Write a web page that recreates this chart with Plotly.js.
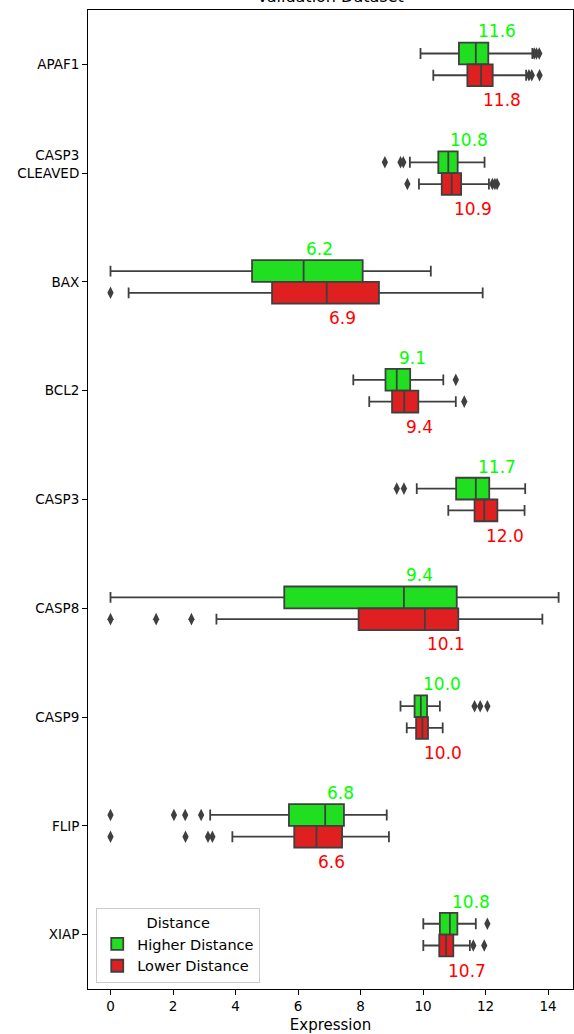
<!DOCTYPE html>
<html>
<head>
<meta charset="utf-8">
<script src="https://cdn.plot.ly/plotly-3.0.1.min.js"></script>
<style>html,body{margin:0;padding:0;background:#fff;}#chart{width:574px;height:1034px;}</style>
</head>
<body>
<div id="chart"></div>
<script>
// ---- data ----
const categories = ['APAF1','CASP3 CLEAVED','BAX','BCL2','CASP3','CASP8','CASP9','FLIP','XIAP'];
const tickLabels = ['APAF1','CASP3<br>CLEAVED<br>\u00a0','BAX','BCL2','CASP3','CASP8','CASP9','FLIP','XIAP'];

const higherLower = [9.92, 9.58, 0.00, 7.77, 9.80, 0.00, 9.28, 3.19, 10.01];
const higherQ1    = [11.15, 10.49, 4.53, 8.80, 11.06, 5.56, 9.73, 5.71, 10.54];
const higherMed   = [11.69, 10.81, 6.18, 9.16, 11.69, 9.39, 9.93, 6.87, 10.86];
const higherQ3    = [12.09, 11.11, 8.07, 9.59, 12.12, 11.08, 10.13, 7.47, 11.10];
const higherUpper = [13.50, 11.97, 10.25, 10.65, 13.27, 14.34, 10.54, 8.84, 11.69];
const higherOut   = [[13.56,13.63,13.72],[8.78,9.28,9.37],[],[11.05],[9.16,9.39],[],[11.65,11.83,12.06],[0,2.03,2.39,2.90],[12.06]];
const higherLabels = ['11.6','10.8','6.2','9.1','11.7','9.4','10.0','6.8','10.8'];

const lowerLower = [10.33, 9.87, 0.58, 8.28, 10.81, 3.39, 9.48, 3.90, 10.01];
const lowerQ1    = [11.42, 10.60, 5.17, 9.01, 11.65, 7.94, 9.78, 5.88, 10.52];
const lowerMed   = [11.86, 10.92, 6.92, 9.40, 11.96, 10.06, 9.98, 6.59, 10.74];
const lowerQ3    = [12.23, 11.22, 8.59, 9.85, 12.38, 11.13, 10.16, 7.41, 10.97];
const lowerUpper = [13.30, 12.11, 11.91, 11.05, 13.25, 13.82, 10.63, 8.91, 11.50];
const lowerOut   = [[13.39,13.48,13.73],[9.50,12.22,12.30,12.37],[0],[11.32],[],[0,1.46,2.59],[],[0,2.40,3.12,3.26],[11.61,11.96]];
const lowerLabels = ['11.8','10.9','6.9','9.4','12.0','10.1','10.0','6.6','10.7'];

const xTicks = [0,2,4,6,8,10,12,14];
const chartTitle = 'Validation Dataset';

// ---- styling ----
const GREEN = '#20DF20', RED = '#DF2020', EDGE = '#3f3f3f';
const FONT = 'DejaVu Sans, sans-serif';

function boxTrace(name, fill, lf, q1, med, q3, uf, outs) {
  return {
    type: 'box', orientation: 'h', name: name,
    y: categories, x: outs,
    lowerfence: lf, q1: q1, median: med, q3: q3, upperfence: uf,
    boxpoints: 'outliers', jitter: 0, pointpos: 0,
    fillcolor: fill,
    line: {color: EDGE, width: 1.8},
    whiskerwidth: 0.5,
    marker: {symbol: 'diamond-tall', size: 9, color: EDGE},
    hoverinfo: 'skip'
  };
}

const data = [
  boxTrace('Higher Distance', GREEN, higherLower, higherQ1, higherMed, higherQ3, higherUpper, higherOut),
  boxTrace('Lower Distance', RED, lowerLower, lowerQ1, lowerMed, lowerQ3, lowerUpper, lowerOut)
];

const annotations = [];
categories.forEach((c, i) => {
  annotations.push({x: higherMed[i], y: c, xref: 'x', yref: 'y', text: higherLabels[i],
    showarrow: false, xanchor: 'left', yanchor: 'middle', yshift: 33,
    font: {family: FONT, size: 17, color: '#00FF00'}});
  annotations.push({x: lowerMed[i], y: c, xref: 'x', yref: 'y', text: lowerLabels[i],
    showarrow: false, xanchor: 'left', yanchor: 'middle', yshift: -36,
    font: {family: FONT, size: 17, color: '#FF0000'}});
});
// chart title, partly cut off at the top edge as in the reference
annotations.push({x: 0.5, y: 1, xref: 'paper', yref: 'paper', text: chartTitle,
  showarrow: false, xanchor: 'center', yanchor: 'bottom', yshift: 2,
  font: {family: FONT, size: 16, color: '#000'}});

const layout = {
  width: 574, height: 1034,
  margin: {l: 88, r: 1, t: 10, b: 45},
  paper_bgcolor: '#fff', plot_bgcolor: '#fff',
  font: {family: FONT, size: 13.5, color: '#000'},
  boxmode: 'group', boxgap: 0.6, boxgroupgap: 0,
  xaxis: {
    range: [-0.72, 14.8], tickvals: xTicks, ticktext: xTicks.map(String),
    ticks: 'outside', ticklen: 5, tickcolor: '#000', showgrid: false, zeroline: false,
    showline: true, linecolor: '#000', linewidth: 1, mirror: true,
    tickfont: {family: FONT, size: 13.5, color: '#000'},
    title: {text: 'Expression', font: {family: FONT, size: 15, color: '#000'}, standoff: 9}
  },
  yaxis: {
    type: 'category', categoryorder: 'array', categoryarray: categories,
    range: [8.5, -0.5], tickvals: categories, ticktext: tickLabels,
    ticks: 'outside', ticklen: 5, tickcolor: '#000', showgrid: false, zeroline: false,
    showline: true, linecolor: '#000', linewidth: 1, mirror: true,
    tickfont: {family: FONT, size: 13.5, color: '#000'}
  },
  legend: {
    x: 0.017, y: 0.006, xanchor: 'left', yanchor: 'bottom',
    bgcolor: '#fff', bordercolor: '#cccccc', borderwidth: 1,
    font: {family: FONT, size: 14.5, color: '#000'},
    title: {text: 'Distance', side: 'top center', font: {family: FONT, size: 14.5, color: '#000'}},
    traceorder: 'normal', tracegroupgap: 0
  },
  annotations: annotations,
  showlegend: true
};

Plotly.newPlot('chart', data, layout, {displayModeBar: false, staticPlot: true});
</script>
</body>
</html>
